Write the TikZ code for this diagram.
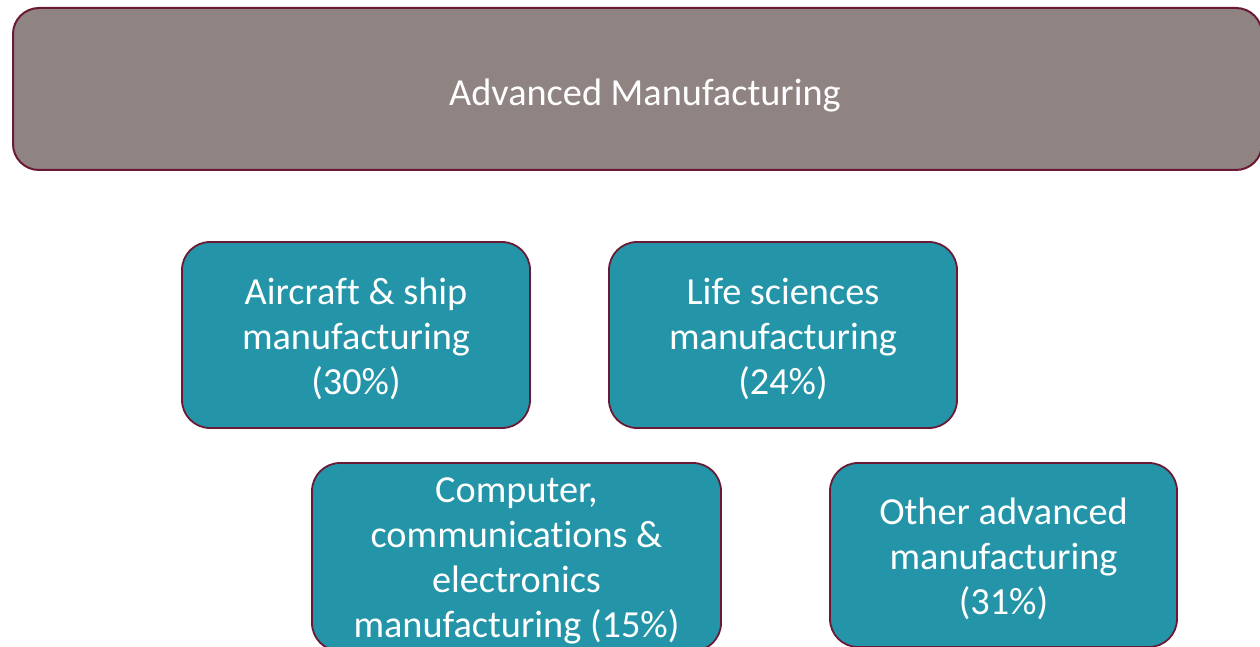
\documentclass[tikz,border=0pt]{standalone}
\usepackage{fontspec}
\setmainfont[Ligatures=NoCommon]{Carlito}
\definecolor{topfill}{HTML}{8F8482}
\definecolor{tealfill}{HTML}{2494A8}
\definecolor{edge}{HTML}{6B1A35}
\begin{document}
\begin{tikzpicture}[x=1pt,y=-1pt,
  topbox/.style={draw=edge, line width=2pt, fill=topfill, rounded corners=26pt, inner sep=0pt},
  catbox/.style={draw=edge, line width=1.8pt, fill=tealfill, rounded corners=28pt, inner sep=0pt},
  cattext/.style={text=white, align=center, inner sep=0pt, font=\fontsize{38.3}{45}\selectfont},
  toptext/.style={text=white, font=\fontsize{38.3}{45}\selectfont}]
\useasboundingbox (0,0) rectangle (1260,647);
\clip (0,0) rectangle (1260,647);
\node[topbox, minimum width=1249pt, minimum height=162pt] (top) at (637.5,89) {};
\node[toptext] (toplabel) at (645,95) {Advanced Manufacturing};
\node[catbox, minimum width=348pt, minimum height=186pt] (air) at (356,335) {};
\node[cattext] (airtext) at ([yshift=-3.5pt]air.center) {Aircraft \& ship\\manufacturing\\(30\%)};
\node[catbox, minimum width=348pt, minimum height=186pt] (life) at (783,335) {};
\node[cattext] (lifetext) at ([yshift=-3.5pt]life.center) {Life sciences\\manufacturing\\(24\%)};
\node[catbox, minimum width=409pt, minimum height=188pt] (comp) at (516.5,557) {};
\node[cattext] (comptext) at ([yshift=-3.5pt]comp.center) {Computer,\\communications \&\\electronics\\manufacturing (15\%)};
\node[catbox, minimum width=347pt, minimum height=184pt] (other) at (1003.5,555) {};
\node[cattext] (othertext) at ([yshift=-3.5pt]other.center) {Other advanced\\manufacturing\\(31\%)};
\end{tikzpicture}
\end{document}
